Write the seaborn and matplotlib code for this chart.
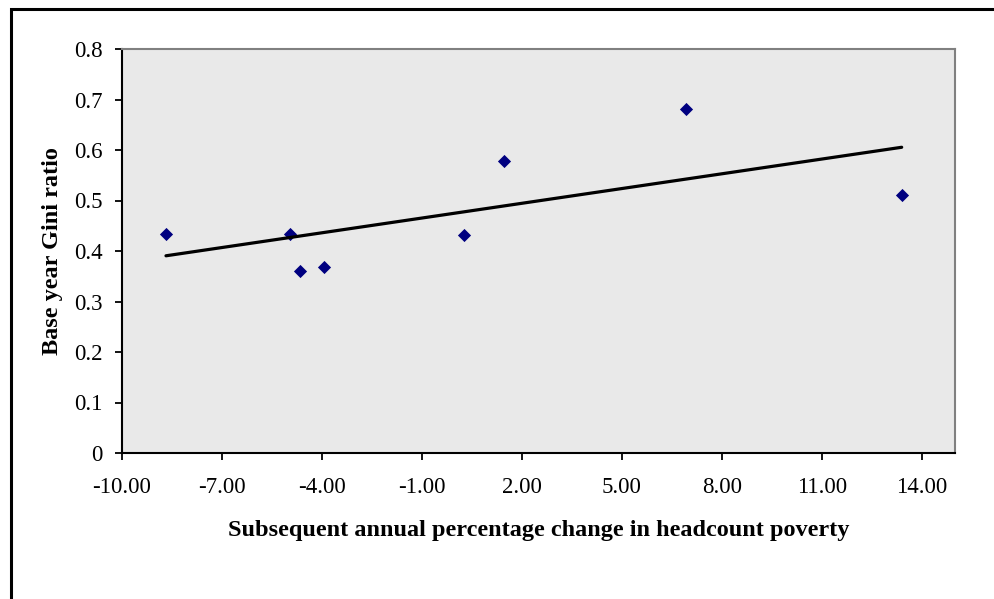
import matplotlib
matplotlib.use("Agg")
import matplotlib.pyplot as plt
import seaborn as sns
import pandas as pd
from matplotlib.patches import Rectangle
from matplotlib.ticker import FuncFormatter

# data
pobreza = [-8.68, -4.96, -4.66, -3.94, 0.25, 1.46, 6.93, 13.40]
gini = [0.433, 0.433, 0.361, 0.369, 0.432, 0.578, 0.681, 0.511]
x_ticks = [-10, -7, -4, -1, 2, 5, 8, 11, 14]
y_ticks = [0, 0.1, 0.2, 0.3, 0.4, 0.5, 0.6, 0.7, 0.8]

df = pd.DataFrame({"pobreza": pobreza, "gini": gini})

sns.set_style("white")
plt.rcParams["font.family"] = ["Liberation Serif", "DejaVu Serif"]
plt.rcParams["text.color"] = "black"
plt.rcParams["axes.labelcolor"] = "black"
plt.rcParams["xtick.color"] = "black"
plt.rcParams["ytick.color"] = "black"

fig = plt.figure(figsize=(9.95, 5.99), dpi=100)
ax = fig.add_axes([122 / 995, (599 - 453) / 599, (955 - 122) / 995, (453 - 49) / 599])
ax.set_facecolor("#e9e9e9")

sns.regplot(data=df, x="pobreza", y="gini", ci=None, marker="D", ax=ax,
            scatter_kws={"s": 45, "color": "#000080", "linewidths": 0, "alpha": 1},
            line_kws={"color": "black", "lw": 2.3})

ax.set_xlim(-10, 15)
ax.set_ylim(0, 0.8)
ax.set_xticks(x_ticks)
ax.set_yticks(y_ticks)
ax.xaxis.set_major_formatter(FuncFormatter(lambda v, p: f"{v:.2f}"))
ax.yaxis.set_major_formatter(FuncFormatter(lambda v, p: "0" if v == 0 else f"{v:.1f}"))
ax.tick_params(axis="both", direction="out", length=5, width=1.3, color="black",
               labelcolor="black", labelsize=16.5, left=True, bottom=True)
ax.tick_params(axis="y", pad=9)
ax.tick_params(axis="x", pad=12)

for s in ["left", "bottom"]:
    ax.spines[s].set_color("black")
    ax.spines[s].set_linewidth(1.5)
for s in ["top", "right"]:
    ax.spines[s].set_color("#808080")
    ax.spines[s].set_linewidth(1.5)

ax.set_xlabel("Subsequent annual percentage change in headcount poverty",
              fontsize=17.5, fontweight="bold", labelpad=16, color="black")
ax.set_ylabel("Base year Gini ratio", fontsize=17.5, fontweight="bold", labelpad=8,
              color="black")

# moldura externa
fig.patches.append(Rectangle((11 / 995, -0.1), 1.2, (599 - 9) / 599 + 0.1,
                             transform=fig.transFigure, fill=False,
                             edgecolor="black", linewidth=2.2))

plt.savefig("out.png", dpi=100)
